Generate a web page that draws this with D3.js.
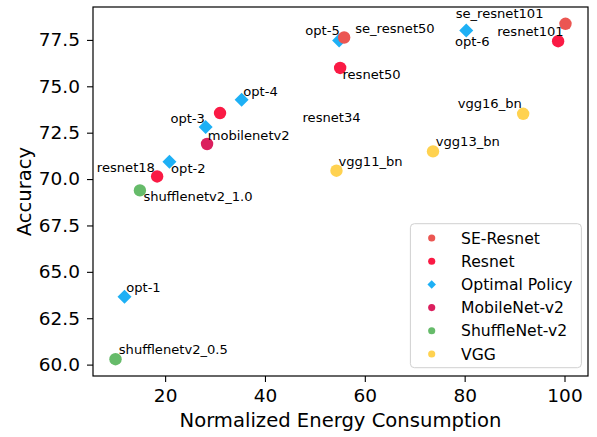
<!DOCTYPE html>
<html>
<head>
<meta charset="utf-8">
<script src="https://cdn.jsdelivr.net/npm/d3@7"></script>
<style>
  body { margin: 0; background: #fff; }
  svg { font-family: "DejaVu Sans", sans-serif; }
</style>
</head>
<body>
<div id="chart"></div>
<script>
// Model names, family, energy (x) and accuracy (y)
const names = ['shufflenetv2_0.5', 'opt-1', 'shufflenetv2_1.0', 'resnet18', 'opt-2', 'mobilenetv2',
    'opt-3', 'resnet34', 'opt-4', 'opt-5', 'se_resnet50', 'resnet50', 'vgg11_bn', 'vgg13_bn',
    'vgg16_bn', 'opt-6', 'resnet101', 'se_resnet101'];
const families = ['ShuffleNet-v2', 'Optimal Policy', 'ShuffleNet-v2', 'Resnet', 'Optimal Policy', 'MobileNet-v2',
    'Optimal Policy', 'Resnet', 'Optimal Policy', 'Optimal Policy', 'SE-Resnet', 'Resnet', 'VGG', 'VGG',
    'VGG', 'Optimal Policy', 'Resnet', 'SE-Resnet'];
const energy = [10.06, 11.86, 14.95, 18.4, 20.86, 28.4, 28.12, 31.0, 35.32, 54.86, 55.86, 55.06, 54.32, 73.66,
    91.72, 80.32, 98.72, 100.2];
const accuracy = [60.29, 63.66, 69.39, 70.14, 70.93, 71.89, 72.81, 73.56, 74.28, 77.47, 77.63, 75.99, 70.45, 71.49,
    73.52, 78.01, 77.43, 78.37];

// Where each annotation text sits (data coordinates, left / baseline)
const labelX = [10.72, 12.2, 15.66, 6.32, 21.2, 28.52, 21.06, 47.52, 35.66, 48.06, 58.06, 55.52, 54.72, 74.2,
    78.6, 78.06, 86.52, 78.2];
const labelY = [60.59, 63.9, 68.8, 70.36, 70.34, 72.12, 73.02, 73.08, 74.46, 77.78, 77.87, 75.39, 70.68, 71.76,
    73.83, 77.16, 77.69, 78.68];

// Legend order and colours
const legendOrder = ['SE-Resnet', 'Resnet', 'Optimal Policy', 'MobileNet-v2', 'ShuffleNet-v2', 'VGG'];
const legendColors = ['#eb5652', '#fa1a44', '#1eb0f5', '#db1f5e', '#66bb6a', '#ffd250'];

const xTicks = [20, 40, 60, 80, 100];
const yTicks = [60, 62.5, 65, 67.5, 70, 72.5, 75, 77.5];

const data = names.map((n, i) => ({
    name: n, family: families[i], x: energy[i], y: accuracy[i], lx: labelX[i], ly: labelY[i]
}));

const svgWidth = 597, svgHeight = 437;
const margin = { top: 7, right: 9, bottom: 61, left: 93 };
const chartWidth = svgWidth - margin.left - margin.right;
const chartHeight = svgHeight - margin.top - margin.bottom;

let svg = d3.select('#chart').append('svg')
    .attr('width', svgWidth)
    .attr('height', svgHeight);

let chart = svg.append('g')
    .attr('transform', `translate(${margin.left}, ${margin.top})`);

// matplotlib-like 5% padding around the data
const [x0, x1] = d3.extent(energy);
const [y0, y1] = d3.extent(accuracy);
const xPad = (x1 - x0) * 0.05, yPad = (y1 - y0) * 0.05;

let xScale = d3.scaleLinear().domain([x0 - xPad, x1 + xPad]).range([0, chartWidth]);
let yScale = d3.scaleLinear().domain([y0 - yPad, y1 + yPad]).range([chartHeight, 0]);

let colorScale = d3.scaleOrdinal().domain(legendOrder).range(legendColors);

// Axes
let xAxis = chart.append('g')
    .attr('transform', `translate(0, ${chartHeight})`)
    .call(d3.axisBottom(xScale).tickValues(xTicks).tickSize(6).tickPadding(7).tickSizeOuter(0));
let yAxis = chart.append('g')
    .call(d3.axisLeft(yScale).tickValues(yTicks).tickFormat(d3.format('.1f')).tickSize(6).tickPadding(7).tickSizeOuter(0));

[xAxis, yAxis].forEach(ax => {
    ax.select('.domain').remove();
    ax.selectAll('line').attr('stroke', '#000').attr('stroke-width', 1.1);
    ax.selectAll('text')
        .attr('fill', '#000')
        .style('font-family', '"DejaVu Sans", sans-serif')
        .style('font-size', '18.5px');
});

// Frame
chart.append('rect')
    .attr('width', chartWidth)
    .attr('height', chartHeight)
    .attr('fill', 'none')
    .attr('stroke', '#000')
    .attr('stroke-width', 1.2);

const diamond = d3.symbol().type(d3.symbolSquare).size(98);

// Optimal policy diamonds first, the other models on top
const opt = data.filter(d => d.family === 'Optimal Policy');
const others = data.filter(d => d.family !== 'Optimal Policy');

chart.selectAll('.opt')
    .data(opt)
    .enter()
    .append('path')
    .attr('class', 'opt')
    .attr('d', diamond)
    .attr('transform', d => `translate(${xScale(d.x)}, ${yScale(d.y)}) rotate(45)`)
    .attr('fill', d => colorScale(d.family));

chart.selectAll('.model')
    .data(others)
    .enter()
    .append('circle')
    .attr('class', 'model')
    .attr('cx', d => xScale(d.x))
    .attr('cy', d => yScale(d.y))
    .attr('r', 6.2)
    .attr('fill', d => colorScale(d.family));

// Annotations
chart.selectAll('.label')
    .data(data)
    .enter()
    .append('text')
    .attr('class', 'label')
    .attr('x', d => xScale(d.lx))
    .attr('y', d => yScale(d.ly))
    .style('font-size', '13.1px')
    .attr('fill', '#000')
    .text(d => d.name);

// Axis labels
svg.append('text')
    .attr('x', margin.left + chartWidth / 2)
    .attr('y', 427)
    .attr('text-anchor', 'middle')
    .style('font-size', '19.6px')
    .text('Normalized Energy Consumption');

svg.append('text')
    .attr('transform', `translate(31, ${margin.top + chartHeight / 2}) rotate(-90)`)
    .attr('text-anchor', 'middle')
    .style('font-size', '19.6px')
    .text('Accuracy');

// Legend
const legW = 171, legH = 144, rowH = 23.2;
let legend = chart.append('g')
    .attr('transform', `translate(${chartWidth - 6.6 - legW}, ${chartHeight - 8.3 - legH})`);

legend.append('rect')
    .attr('width', legW)
    .attr('height', legH)
    .attr('rx', 4)
    .attr('fill', '#fff')
    .attr('fill-opacity', 0.8)
    .attr('stroke', '#d0d0d0')
    .attr('stroke-width', 1);

let rows = legend.selectAll('.legend')
    .data(legendOrder)
    .enter()
    .append('g')
    .attr('class', 'legend')
    .attr('transform', (d, i) => `translate(0, ${14.3 + i * rowH})`);

rows.append('path')
    .attr('d', d => d === 'Optimal Policy'
        ? d3.symbol().type(d3.symbolSquare).size(36)()
        : d3.symbol().type(d3.symbolCircle).size(40)())
    .attr('transform', d => d === 'Optimal Policy' ? 'translate(21.3, 0) rotate(45)' : 'translate(21.3, 0)')
    .attr('fill', d => colorScale(d));

rows.append('text')
    .attr('x', 50.7)
    .attr('dy', '0.36em')
    .style('font-size', '15.6px')
    .attr('fill', '#000')
    .text(d => d);
</script>
</body>
</html>
